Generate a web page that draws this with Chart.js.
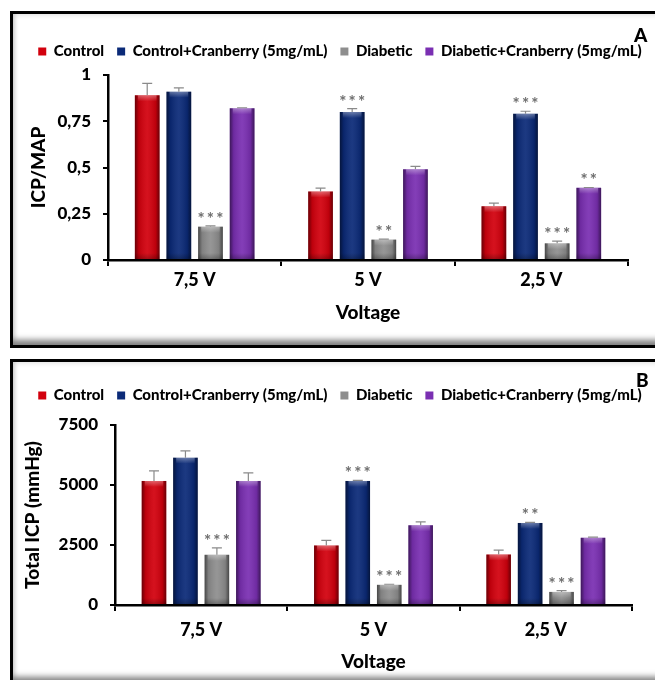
<!DOCTYPE html>
<html>
<head>
<meta charset="utf-8">
<script src="https://cdn.jsdelivr.net/npm/chart.js@4.4.0/dist/chart.umd.min.js"></script>
<style>
  html, body { margin: 0; padding: 0; background: #fff; overflow: hidden; }
  body { position: relative; width: 655px; height: 680px; font-family: Lato, sans-serif; }
  .panel {
    position: absolute; left: 10px; width: 660px;
    border: 3px solid #000; background: #fff;
    box-shadow: inset 0 -9px 6px -4px #7c7c7c, inset 5px 0 4px -3px #cfcfcf, inset 0 5px 4px -3px #e8e8e8;
  }
  #panelA { top: 11px; height: 331px; }
  #panelB { top: 359px; height: 320px; }
  .tag { position: absolute; font: 900 19px Lato, sans-serif; line-height: 1; color: #000; }
  canvas { position: absolute; left: 0; }
</style>
</head>
<body>
<div class="panel" id="panelA"></div>
<div class="panel" id="panelB"></div>
<canvas id="chartA" width="680" height="345" style="top:0"></canvas>
<canvas id="chartB" width="680" height="333" style="top:347px"></canvas>
<div class="tag" style="left:634px;top:25px">A</div>
<div class="tag" style="left:636px;top:370px">B</div>

<script>
const categories  = ['7,5 V', '5 V', '2,5 V'];
const seriesNames = ['Control', 'Control+Cranberry (5mg/mL)', 'Diabetic', 'Diabetic+Cranberry (5mg/mL)'];

// panel A : ICP/MAP
const ratioControl      = [0.89, 0.37, 0.29];
const ratioControlCran  = [0.91, 0.80, 0.79];
const ratioDiabetic     = [0.18, 0.11, 0.09];
const ratioDiabeticCran = [0.82, 0.49, 0.39];

const ratioErrControl      = [0.065, 0.018, 0.017];
const ratioErrControlCran  = [0.02, 0.018, 0.014];
const ratioErrDiabetic     = [0.004, 0.003, 0.012];
const ratioErrDiabeticCran = [0.003, 0.016, 0.002];

const ratioSigControl      = ['', '', ''];
const ratioSigControlCran  = ['', '***', '***'];
const ratioSigDiabetic     = ['***', '**', '***'];
const ratioSigDiabeticCran = ['', '', '**'];

const ratioTicks = [0, 0.25, 0.5, 0.75, 1];

// panel B : Total ICP (mmHg)
const icpControl      = [5170, 2480, 2100];
const icpControlCran  = [6140, 5170, 3420];
const icpDiabetic     = [2090, 840, 545];
const icpDiabeticCran = [5170, 3320, 2800];

const icpErrControl      = [420, 210, 185];
const icpErrControlCran  = [280, 25, 25];
const icpErrDiabetic     = [290, 25, 55];
const icpErrDiabeticCran = [335, 140, 25];

const icpSigControl      = ['', '', ''];
const icpSigControlCran  = ['', '***', '**'];
const icpSigDiabetic     = ['***', '***', '***'];
const icpSigDiabeticCran = ['', '', ''];

const icpTicks = [0, 2500, 5000, 7500];

const barFill = ['#d2000d', '#0b2a78', '#8e8e8e', '#7a2fb2'];

Chart.defaults.font.family = 'Lato, sans-serif';
Chart.defaults.color = '#000';

// bevel shading, error bars and significance stars on top of the library bars
const barDecor = {
  id: 'barDecor',
  afterDatasetsDraw(chart) {
    const ctx = chart.ctx;
    const yScale = chart.scales.y;
    ctx.save();
    chart.data.datasets.forEach((ds, i) => {
      chart.getDatasetMeta(i).data.forEach((bar, j) => {
        const { x, y, base, width } = bar.getProps(['x', 'y', 'base', 'width'], true);
        const left = x - width / 2, right = x + width / 2;

        const g = ctx.createLinearGradient(left, 0, right, 0);
        g.addColorStop(0, 'rgba(0,0,0,0.5)');
        g.addColorStop(0.16, 'rgba(0,0,0,0.1)');
        g.addColorStop(0.5, 'rgba(255,255,255,0.07)');
        g.addColorStop(0.84, 'rgba(0,0,0,0.1)');
        g.addColorStop(1, 'rgba(0,0,0,0.5)');
        ctx.fillStyle = g;
        ctx.fillRect(left, y, width, base - y);

        const h = Math.min(6, base - y);
        const gt = ctx.createLinearGradient(0, y, 0, y + h);
        gt.addColorStop(0, 'rgba(255,255,255,0.35)');
        gt.addColorStop(1, 'rgba(255,255,255,0)');
        ctx.fillStyle = gt;
        ctx.fillRect(left + 3, y, width - 6, h);

        const hb = Math.min(6, base - y);
        const gb = ctx.createLinearGradient(0, base - hb, 0, base);
        gb.addColorStop(0, 'rgba(0,0,0,0)');
        gb.addColorStop(1, 'rgba(0,0,0,0.25)');
        ctx.fillStyle = gb;
        ctx.fillRect(left, base - hb, width, hb);

        const yErr = yScale.getPixelForValue(ds.data[j] + ds.errors[j]);
        ctx.strokeStyle = '#8a8a8a';
        ctx.lineWidth = 1.2;
        ctx.beginPath();
        ctx.moveTo(x, y);
        ctx.lineTo(x, yErr);
        ctx.moveTo(x - 5, yErr);
        ctx.lineTo(x + 5, yErr);
        ctx.stroke();

        if (ds.sig[j]) {
          ctx.fillStyle = '#6e6e6e';
          ctx.font = 'bold 17px Lato, sans-serif';
          ctx.textAlign = 'center';
          ctx.textBaseline = 'alphabetic';
          ctx.fillText(ds.sig[j].split('').join('\u2009'), x, yErr - 1);
        }
      });
    });
    ctx.restore();
  }
};

function buildChart(id, p) {
  const datasets = p.values.map((vals, i) => ({
    label: seriesNames[i],
    data: vals,
    errors: p.errors[i],
    sig: p.sig[i],
    backgroundColor: barFill[i],
    borderWidth: 0,
    categoryPercentage: 0.73,
    barPercentage: 0.78,
    xAxisID: 'x',
    yAxisID: 'y',
  }));

  return new Chart(document.getElementById(id), {
    type: 'bar',
    data: { labels: categories, datasets },
    plugins: [barDecor],
    options: {
      responsive: false,
      animation: false,
      devicePixelRatio: 1,
      layout: { padding: { top: p.padTop, left: 0, right: 0, bottom: 0 } },
      plugins: {
        legend: {
          position: 'top',
          align: 'center',
          labels: { boxWidth: 8, boxHeight: 8, padding: 13, color: '#000', font: { size: 15, weight: 900 } },
        },
        tooltip: { enabled: false },
      },
      scales: {
        x: {
          position: 'bottom',
          grid: { offset: true, drawOnChartArea: false, drawTicks: true, tickLength: 6, color: '#000', lineWidth: 2 },
          border: { color: '#000', width: 2.5 },
          ticks: { color: '#000', padding: p.xTickPad, font: { size: 18, weight: 900 } },
          title: { display: true, text: 'Voltage', color: '#000', font: { size: 19, weight: 900 }, padding: { top: 0, bottom: p.xTitlePad } },
          afterFit: s => { s.height = p.xHeight; },
        },
        y: {
          position: 'left',
          min: p.ticks[0],
          max: p.ticks[p.ticks.length - 1],
          grid: { drawOnChartArea: false, drawTicks: true, tickLength: 5, color: '#000', lineWidth: 2 },
          border: { color: '#000', width: 2.5 },
          ticks: {
            stepSize: p.ticks[1] - p.ticks[0],
            padding: 12,
            color: '#000',
            font: { size: 17, weight: 900 },
            callback: v => String(v).replace('.', ','),
          },
          title: { display: true, text: p.yTitle, color: '#000', font: { size: 19, weight: 900 }, padding: { top: p.yTitlePad, bottom: 0 } },
          afterFit: s => { s.width = p.yWidth; },
        },
        // empty spacer axes that keep the plot inside the frame
        xTop: {
          position: 'top', display: true,
          grid: { display: false }, border: { display: false }, ticks: { display: false },
          afterFit: s => { s.height = p.gapTop; },
        },
        yRight: {
          position: 'right', display: true,
          grid: { display: false }, border: { display: false }, ticks: { display: false },
          afterFit: s => { s.width = p.rightWidth; },
        },
      },
    },
  });
}

buildChart('chartA', {
  values: [ratioControl, ratioControlCran, ratioDiabetic, ratioDiabeticCran],
  errors: [ratioErrControl, ratioErrControlCran, ratioErrDiabetic, ratioErrDiabeticCran],
  sig:    [ratioSigControl, ratioSigControlCran, ratioSigDiabetic, ratioSigDiabeticCran],
  ticks: ratioTicks,
  yTitle: 'ICP/MAP',
  padTop: 31, gapTop: 6, yWidth: 108, rightWidth: 52, xHeight: 85,
  xTickPad: 3, xTitlePad: 21, yTitlePad: 27,
});

buildChart('chartB', {
  values: [icpControl, icpControlCran, icpDiabetic, icpDiabeticCran],
  errors: [icpErrControl, icpErrControlCran, icpErrDiabetic, icpErrDiabeticCran],
  sig:    [icpSigControl, icpSigControlCran, icpSigDiabetic, icpSigDiabeticCran],
  ticks: icpTicks,
  yTitle: 'Total ICP (mmHg)',
  padTop: 28, gapTop: 12, yWidth: 115, rightWidth: 48, xHeight: 75,
  xTickPad: 8, xTitlePad: 7, yTitlePad: 21,
});
</script>
</body>
</html>
